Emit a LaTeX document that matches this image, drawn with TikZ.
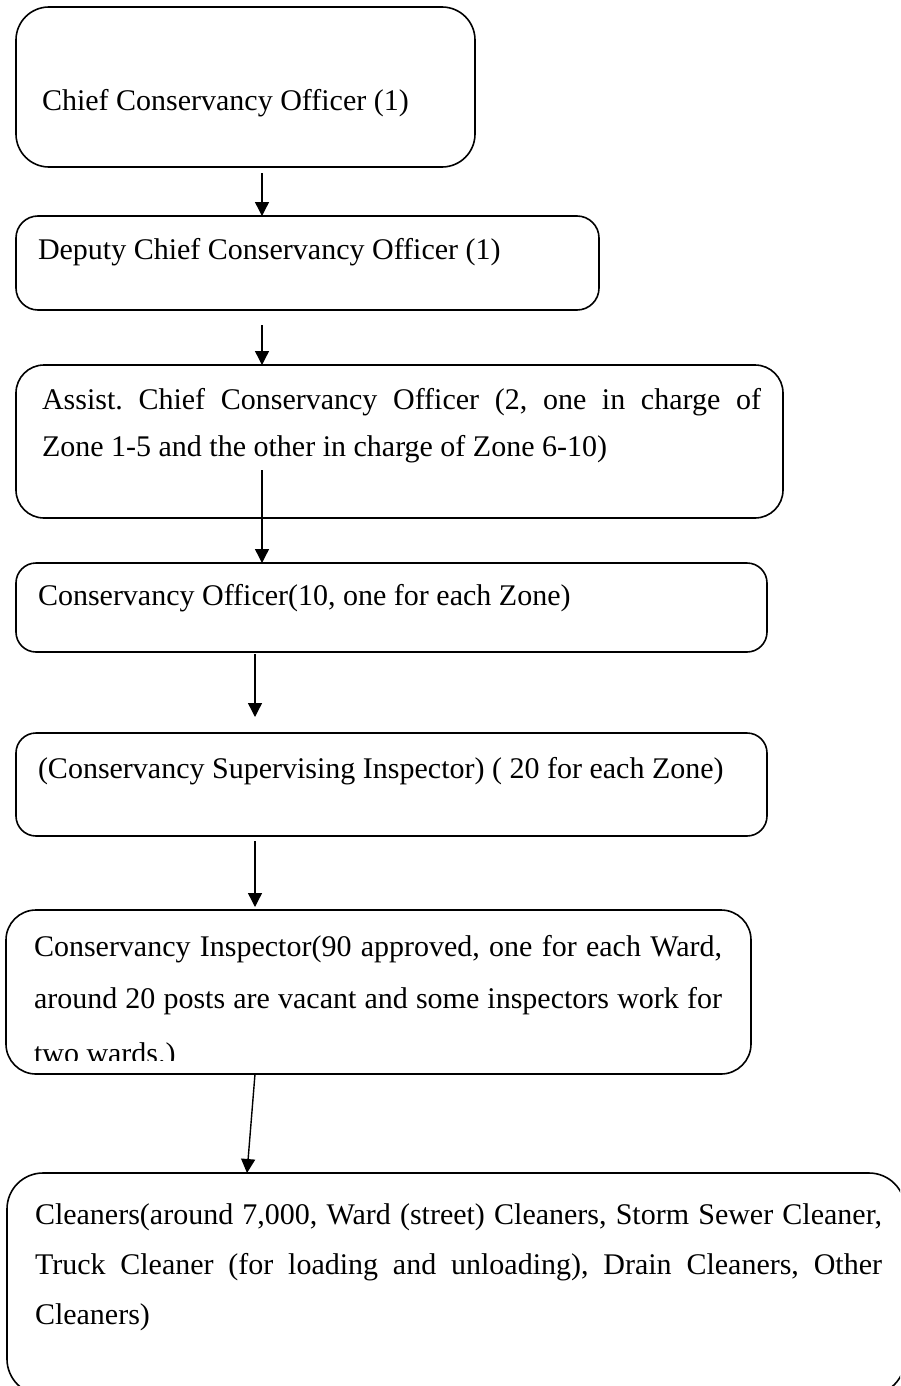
\documentclass[tikz,border=0pt]{standalone}
\usepackage{fontspec}
\setmainfont{Liberation Serif}
\usetikzlibrary{arrows.meta}
\frenchspacing
\begin{document}
\begin{tikzpicture}[x=1pt,y=-1pt,
  box/.style={draw, line width=1.6pt, inner sep=0pt, outer sep=0pt, anchor=north west},
  lbl/.style={anchor=base west, inner sep=0pt, outer sep=0pt, font=\fontsize{30}{36}\selectfont},
  arr/.style={line width=1.4pt, -{Triangle[length=14pt,width=14pt]}}]
\useasboundingbox (0,0) rectangle (900,1386);
\clip (0,0) rectangle (900,1386);
% boxes
\node[box, minimum width=459pt, minimum height=160pt, rounded corners=33pt] (b1) at (16,7) {};
\node[box, minimum width=583pt, minimum height=94pt, rounded corners=22pt] (b2) at (16,216) {};
\node[box, minimum width=767pt, minimum height=153pt, rounded corners=28pt] (b3) at (16,365) {};
\node[box, minimum width=751pt, minimum height=89pt, rounded corners=20pt] (b4) at (16,563) {};
\node[box, minimum width=751pt, minimum height=103pt, rounded corners=20pt] (b5) at (16,733) {};
\node[box, minimum width=745pt, minimum height=164pt, rounded corners=30pt] (b6) at (6,910) {};
\node[box, minimum width=898pt, minimum height=222pt, rounded corners=36pt] (b7) at (7,1173) {};
% texts
\node[lbl] (t1) at (42,111) {Chief Conservancy Officer (1)};
\node[lbl] (t2) at (38,259) {Deputy Chief Conservancy Officer (1)};
\node[lbl] (t3a) at (42,409) {\makebox[719pt][s]{Assist. Chief Conservancy Officer (2, one in charge of}};
\node[lbl] (t3b) at (42,456) {Zone 1-5 and the other in charge of Zone 6-10)};
\node[lbl] (t4) at (38,605) {Conservancy Officer(10, one for each Zone)};
\node[lbl] (t5) at (38,778) {(Conservancy Supervising Inspector) ( 20 for each Zone)};
\node[lbl] (t6a) at (34,956) {\makebox[688pt][s]{Conservancy Inspector(90 approved, one for each Ward,}};
\node[lbl] (t6b) at (34,1008) {\makebox[688pt][s]{around 20 posts are vacant and some inspectors work for}};
\begin{scope}
\clip (0,900) rectangle (900,1060);
\node[lbl] (t6c) at (34,1063) {two wards.)};
\end{scope}
\node[lbl] (t7a) at (35,1224) {\makebox[847pt][s]{Cleaners(around 7,000, Ward (street) Cleaners, Storm Sewer Cleaner,}};
\node[lbl] (t7b) at (35,1274) {\makebox[847pt][s]{Truck Cleaner (for loading and unloading), Drain Cleaners, Other}};
\node[lbl] (t7c) at (35,1324) {Cleaners)};
% connectors
\draw[arr] ([shift={(246,6)}]b1.south west) -- ([xshift=246pt]b2.north west);
\draw[arr] ([shift={(246,15)}]b2.south west) -- ([xshift=246pt]b3.north west);
\draw[arr] ([shift={(246,-48)}]b3.south west) -- ([xshift=246pt]b4.north west);
\draw[arr] ([shift={(239,2)}]b4.south west) -- ([shift={(239,-16)}]b5.north west);
\draw[arr] ([shift={(239,5)}]b5.south west) -- ([shift={(249,-3)}]b6.north west);
\draw[arr] ([xshift=249pt]b6.south west) -- ([xshift=240pt]b7.north west);
\end{tikzpicture}
\end{document}
